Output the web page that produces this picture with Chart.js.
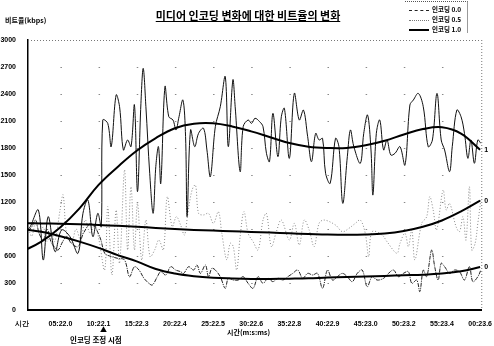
<!DOCTYPE html>
<html>
<head>
<meta charset="utf-8">
<script src="https://cdn.jsdelivr.net/npm/chart.js@4/dist/chart.umd.min.js"></script>
<style>
  html, body { margin: 0; padding: 0; background: #fff; }
  #wrap { position: relative; width: 494px; height: 346px; font-family: 'Noto Sans CJK KR', sans-serif; color: #000; }
  #chart { position: absolute; left: 0; top: 0; }
  .txt { position: absolute; white-space: nowrap; font-weight: bold; line-height: 1; }
  #title { left: 0; width: 496px; top: 10px; text-align: center; font-size: 11px; text-decoration: underline; }
  #ytitle { left: 5px; top: 17px; font-size: 7px; }
  #xtitle { left: 227px; top: 329px; font-size: 7px; }
  #mark { left: 100px; top: 326px; font-size: 7px; }
  #note { left: 70px; top: 336px; font-size: 7.5px; }
  #legend { position: absolute; left: 405px; top: 1px; width: 62px; height: 31px; border-top: 1px dotted #555; border-right: 1px solid #999; }
  .row { position: absolute; left: 4px; height: 9px; font-size: 6.5px; font-weight: bold; }
  .row span.s { display: inline-block; width: 20px; vertical-align: middle; margin-right: 3px; }
</style>
</head>
<body>
<div id="wrap">
  <canvas id="chart" width="494" height="346"></canvas>
  <div class="txt" id="title">미디어 인코딩 변화에 대한 비트율의 변화</div>
  <div class="txt" id="ytitle">비트율(kbps)</div>
  <div class="txt" id="xtitle">시간(m:s:ms)</div>
  <div class="txt" id="mark">▲</div>
  <div class="txt" id="note">인코딩 조정 시점</div>
  <div id="legend">
    <div class="row" style="top:2px"><span class="s" style="border-top:1px dashed #222"></span>인코딩 0.0</div>
    <div class="row" style="top:12px"><span class="s" style="border-top:1px dotted #777"></span>인코딩 0.5</div>
    <div class="row" style="top:22px"><span class="s" style="border-top:2px solid #000"></span>인코딩 1.0</div>
  </div>
</div>
<script>
// x axis: 0 = "시간", every 10 units is one labelled tick
const tickLabels = ['시간', '05:22.0', '10:22.1', '15:22.3', '20:22.4', '25:22.5', '30:22.6',
  '35:22.8', '40:22.9', '45:23.0', '50:23.2', '55:23.4', '00:23.6'];

// encoding 1.0, raw bitrate
const enc10Time = [1.6, 2.1, 4.2, 5.5, 6.8, 8.6, 10.3, 12.5, 14.6, 15.9,
  17.2, 18.5, 19.8, 20.7, 21.1, 22.4, 23.3, 24.6, 25.5, 26.5,
  27.6, 28.5, 29.4, 30.2, 31.1, 31.7, 32.4, 33.4, 34.3, 35.0,
  35.7, 36.3, 37.4, 38.4, 39.5, 40.3, 41.0, 42.1, 42.8, 43.2,
  44.1, 45.2, 46.2, 47.5, 48.4, 49.3, 50.6, 51.9, 53.2, 54.0,
  55.2, 55.8, 57.1, 57.9, 59.2, 60.1, 61.0, 62.2, 63.1, 64.0,
  64.8, 65.7, 67.0, 67.9, 68.7, 70.0, 71.3, 72.6, 73.7, 74.8,
  75.8, 76.9, 77.8, 78.7, 79.5, 80.7, 82.1, 83.0, 84.0, 85.2,
  86.0, 86.9, 88.6, 89.5, 90.5, 91.4, 91.9, 92.8, 93.7, 94.7,
  95.6, 96.6, 97.7, 99.0, 100.3, 101.6, 102.5, 103.8, 105.1, 106.4,
  107.5, 108.7, 109.8, 110.7, 112.0, 112.7, 113.9, 115.0, 115.9, 116.8,
  117.6, 118.5, 119.4, 120.2];
const enc10Rate = [900, 926, 1111, 555, 1037, 648, 889, 815, 630, 1074,
  1222, 815, 1074, 926, 2111, 2074, 1815, 2389, 2259, 1778,
  1889, 1815, 2278, 1315, 2296, 2685, 2259, 1519, 1074, 1593,
  1815, 1407, 2481, 2148, 2111, 2000, 2130, 2333, 1926, 1037,
  2000, 1815, 1963, 2019, 1778, 1481, 2037, 2259, 2593, 1815,
  2556, 2259, 1537, 2037, 2111, 2074, 2130, 2093, 2037, 1741,
  1648, 2185, 1704, 2148, 2241, 1685, 2407, 2111, 2222, 1926,
  1648, 1963, 1889, 1907, 1519, 1407, 1907, 1815, 1185, 1704,
  2000, 1815, 1630, 1963, 2167, 1778, 1278, 1963, 2111, 1778,
  1889, 1722, 1741, 1815, 1611, 2278, 2333, 2407, 2259, 1815,
  1889, 2407, 1889, 1778, 1537, 1815, 2222, 2148, 1963, 1685,
  1889, 1630, 1889, 1852];

// encoding 0.5, raw bitrate
const enc05Time = [1.6, 2.5, 3.5, 4.5, 5.5, 6.5, 7.5, 8.5, 9.9, 10.7,
  11.6, 12.9, 14.1, 15.3, 16.5, 17.8, 19.0, 20.1, 21.6, 22.4,
  23.5, 24.6, 25.5, 26.8, 27.6, 28.5, 29.4, 30.2, 31.3, 32.4,
  33.5, 34.7, 35.8, 37.0, 38.0, 39.3, 40.4, 41.5, 42.5, 43.4,
  44.5, 45.4, 46.2, 47.5, 48.8, 50.1, 51.4, 52.3, 53.6, 54.5,
  55.3, 56.2, 57.1, 58.1, 59.2, 60.5, 61.8, 63.1, 64.0, 65.3,
  66.6, 67.9, 70.0, 71.3, 72.6, 73.9, 75.2, 76.5, 77.8, 79.1,
  82.1, 83.9, 85.6, 87.3, 88.6, 89.9, 90.8, 91.7, 94.3, 95.6,
  98.2, 99.0, 100.3, 101.2, 102.1, 102.9, 104.7, 106.0, 106.8, 107.7,
  108.6, 110.3, 111.1, 112.0, 113.7, 114.6, 115.5, 116.3, 117.2, 117.8,
  118.7, 119.4, 120.2];
const enc05Rate = [900, 820, 980, 850, 920, 760, 880, 760, 1111, 1278,
  852, 741, 900, 780, 1000, 850, 950, 780, 444, 1148,
  389, 1111, 519, 1556, 667, 1370, 667, 1185, 556, 1000,
  593, 667, 778, 667, 1259, 926, 1037, 944, 833, 1074,
  1333, 1389, 1074, 1056, 1074, 963, 1093, 852, 556, 741,
  704, 444, 815, 1093, 852, 759, 667, 1000, 1074, 704,
  870, 1000, 778, 963, 722, 1000, 889, 704, 963, 1000,
  944, 870, 907, 963, 1000, 852, 593, 870, 833, 759,
  630, 741, 852, 704, 889, 556, 963, 1037, 1259, 1111,
  889, 1333, 1111, 1185, 926, 870, 1037, 778, 1370, 667,
  741, 963, 1222];

// encoding 0.0, raw bitrate
const enc00Time = [1.6, 2.5, 3.5, 4.4, 5.5, 6.5, 7.5, 8.4, 9.4, 10.6,
  11.6, 12.9, 14.6, 16.0, 18.1, 20.3, 21.6, 22.9, 25.0, 26.8,
  28.1, 29.4, 30.6, 31.9, 33.2, 34.1, 35.4, 36.3, 37.6, 38.9,
  40.2, 41.5, 42.3, 43.6, 44.9, 45.8, 46.7, 48.0, 48.8, 49.7,
  50.6, 51.9, 53.2, 54.0, 55.3, 56.6, 57.9, 59.2, 60.5, 61.8,
  63.1, 64.4, 65.7, 67.0, 68.3, 69.6, 70.9, 72.2, 73.5, 74.8,
  76.1, 77.4, 78.7, 80.0, 81.3, 82.6, 83.9, 85.2, 86.5, 87.8,
  89.1, 90.4, 91.7, 93.0, 94.7, 96.0, 97.3, 98.6, 99.9, 101.2,
  102.1, 103.4, 104.2, 105.1, 106.0, 107.3, 108.1, 109.0, 109.8, 110.7,
  112.0, 113.3, 114.6, 115.9, 117.2, 118.1, 119.4, 120.2];
const enc00Rate = [880, 926, 1000, 850, 780, 900, 760, 700, 667, 760,
  815, 740, 704, 850, 963, 815, 630, 600, 574, 556,
  370, 481, 444, 352, 296, 278, 370, 426, 389, 481,
  444, 426, 407, 481, 444, 500, 407, 500, 370, 463,
  444, 370, 241, 352, 333, 333, 370, 296, 241, 370,
  296, 352, 315, 352, 333, 370, 407, 444, 352, 407,
  389, 407, 241, 444, 333, 370, 407, 370, 315, 407,
  444, 259, 370, 333, 352, 407, 444, 370, 407, 426,
  296, 333, 204, 444, 370, 667, 481, 333, 519, 481,
  407, 444, 426, 333, 481, 315, 370, 444];

// smoothed trend lines
const trendTime = [0, 5, 10, 15, 20, 25, 30, 35, 40, 45, 50, 55, 60,
  65, 70, 75, 80, 85, 90, 95, 100, 105, 110, 115, 120];
const trend10 = [650, 760, 920, 1130, 1390, 1590, 1770, 1910, 2020, 2070, 2075, 2040, 1985,
  1920, 1855, 1815, 1800, 1800, 1830, 1880, 1950, 2010, 2030, 1960, 1780];
const trend05 = [965, 962, 958, 952, 945, 935, 925, 912, 900, 890, 882, 875, 868,
  860, 852, 845, 838, 835, 838, 850, 878, 925, 995, 1095, 1215];
const trend00 = [900, 870, 820, 760, 690, 610, 540, 455, 405, 375, 358, 350, 345,
  345, 348, 352, 360, 366, 372, 378, 386, 392, 405, 430, 478];
const endLabels = ['1', '0', '0'];

const pts = (xs, ys) => xs.map((x, i) => ({ x: x, y: ys[i] }));
const tickFont = { family: "'Liberation Sans', Arial, sans-serif", size: 7, weight: 'bold' };

// dotted lattice, dotted top/right frame and the labels at the trend ends
const decor = {
  id: 'decor',
  beforeDatasetsDraw(chart) {
    const { ctx, chartArea: a, scales } = chart;
    ctx.save();
    ctx.fillStyle = '#888';
    scales.y.ticks.forEach(t => {
      const py = scales.y.getPixelForValue(t.value);
      scales.x.ticks.forEach(u => {
        const px = scales.x.getPixelForValue(u.value);
        if (px > a.left + 2 && px < a.right - 2 && py > a.top + 2 && py < a.bottom - 2) {
          ctx.fillRect(px, py, 1.5, 1);
        }
      });
    });
    ctx.strokeStyle = '#777';
    ctx.lineWidth = 1;
    ctx.setLineDash([1, 2]);
    ctx.beginPath();
    ctx.moveTo(a.left, a.top + 0.5);
    ctx.lineTo(a.right, a.top + 0.5);
    ctx.moveTo(a.right + 0.5, a.top);
    ctx.lineTo(a.right + 0.5, a.bottom);
    ctx.stroke();
    ctx.restore();
  },
  afterDatasetsDraw(chart) {
    const { ctx, chartArea: a, scales } = chart;
    const ends = [trend10, trend05, trend00];
    ctx.save();
    ctx.fillStyle = '#000';
    ctx.font = "bold 7px 'Liberation Sans', Arial, sans-serif";
    ctx.textBaseline = 'middle';
    ends.forEach((s, i) => {
      ctx.fillText(endLabels[i], a.right + 3, scales.y.getPixelForValue(s[s.length - 1]));
    });
    ctx.restore();
  }
};

new Chart(document.getElementById('chart'), {
  type: 'line',
  data: {
    datasets: [
      { data: pts(trendTime, trend10), borderColor: '#000', borderWidth: 2, tension: 0.4 },
      { data: pts(trendTime, trend05), borderColor: '#000', borderWidth: 2, tension: 0.4 },
      { data: pts(trendTime, trend00), borderColor: '#000', borderWidth: 2, tension: 0.4 },
      { data: pts(enc10Time, enc10Rate), borderColor: '#111', borderWidth: 1, tension: 0.35 },
      { data: pts(enc05Time, enc05Rate), borderColor: '#888', borderWidth: 1, borderDash: [1, 2], tension: 0.35 },
      { data: pts(enc00Time, enc00Rate), borderColor: '#222', borderWidth: 1, borderDash: [4, 1, 1, 1], tension: 0.35 }
    ]
  },
  options: {
    responsive: false,
    animation: false,
    devicePixelRatio: 1,
    layout: { padding: { top: 40, right: 9, left: 0, bottom: 0 } },
    elements: { point: { radius: 0 } },
    plugins: { legend: { display: false }, tooltip: { enabled: false }, title: { display: false } },
    scales: {
      x: {
        type: 'linear',
        min: 1.5,
        max: 120.3,
        afterBuildTicks: s => { s.ticks = tickLabels.map((_, i) => ({ value: i * 10 })); },
        afterFit: s => { s.height = 36; },
        ticks: {
          autoSkip: false,
          maxRotation: 0,
          padding: 2,
          color: '#000',
          font: tickFont,
          callback: (v, i) => tickLabels[i]
        },
        grid: { display: false },
        border: { color: '#000', width: 2 }
      },
      y: {
        min: 0,
        max: 3000,
        afterFit: s => { s.width = 28; },
        ticks: { stepSize: 300, padding: 4, color: '#000', font: tickFont, callback: v => String(v) },
        grid: { display: false },
        border: { color: '#000', width: 1.5 }
      }
    }
  },
  plugins: [decor]
});
</script>
</body>
</html>
